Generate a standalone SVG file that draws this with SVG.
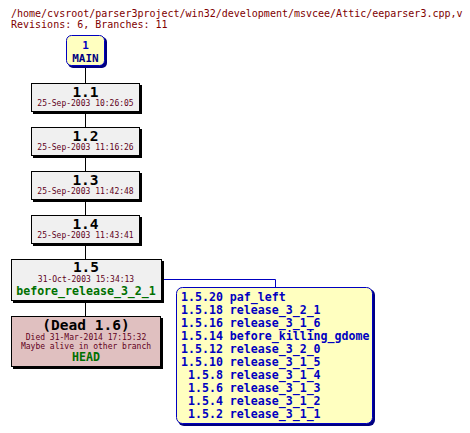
<svg xmlns="http://www.w3.org/2000/svg" width="470" height="433" viewBox="0 0 470 433">
<style>
text{font-family:"DejaVu Sans Mono","Liberation Mono",monospace;}
.hdr{font-size:10px;fill:#800000;}
.rev{fill:#f0f0f0;stroke:#000;stroke-width:1;}
.sh{fill:#000;}
.num{font-size:14.5px;font-weight:bold;fill:#000;text-anchor:middle;}
.date{font-size:8px;fill:#600020;text-anchor:middle;}
.tag{font-size:11.6px;font-weight:bold;fill:#007000;text-anchor:middle;}
.br{font-size:11.6px;font-weight:bold;fill:#0000c0;}
.ln{stroke:#000;stroke-width:1;fill:none;}
</style>
<rect width="470" height="433" fill="#fff"/>
<text class="hdr" x="11" y="17">/home/cvsroot/parser3project/win32/development/msvcee/Attic/eeparser3.cpp,v</text>
<text class="hdr" x="11" y="28">Revisions: 6, Branches: 11</text>
<g id="connectors">
<line class="ln" x1="85.5" y1="66" x2="85.5" y2="83"/>
<line class="ln" x1="85.5" y1="112" x2="85.5" y2="127"/>
<line class="ln" x1="85.5" y1="156" x2="85.5" y2="171"/>
<line class="ln" x1="85.5" y1="200" x2="85.5" y2="215"/>
<line class="ln" x1="85.5" y1="244" x2="85.5" y2="259"/>
<line class="ln" x1="85.5" y1="301" x2="85.5" y2="316"/>
<polyline points="162,279.5 275.5,279.5 275.5,287" fill="none" stroke="#0000c0" stroke-width="1"/>
</g>
<g id="main">
<rect x="68" y="37" width="39" height="31" rx="5" fill="#000080"/>
<rect x="66.5" y="35.5" width="38" height="30" rx="5" fill="#ffffc0" stroke="#0000c0"/>
<text x="85.5" y="48.5" font-size="11" font-weight="bold" fill="#0000c0" text-anchor="middle">1</text>
<text x="85.5" y="61.5" font-size="11" font-weight="bold" fill="#000080" text-anchor="middle">MAIN</text>
</g>
<g id="r1_1">
<rect class="sh" x="33" y="85" width="109" height="29"/>
<rect class="rev" x="31.5" y="83.5" width="108" height="28"/>
<text class="num" x="85.5" y="97">1.1</text>
<text class="date" x="85.5" y="106">25-Sep-2003 10:26:05</text>
</g>
<g id="r1_2">
<rect class="sh" x="33" y="129" width="109" height="29"/>
<rect class="rev" x="31.5" y="127.5" width="108" height="28"/>
<text class="num" x="85.5" y="141">1.2</text>
<text class="date" x="85.5" y="150">25-Sep-2003 11:16:26</text>
</g>
<g id="r1_3">
<rect class="sh" x="33" y="173" width="109" height="29"/>
<rect class="rev" x="31.5" y="171.5" width="108" height="28"/>
<text class="num" x="85.5" y="185">1.3</text>
<text class="date" x="85.5" y="194">25-Sep-2003 11:42:48</text>
</g>
<g id="r1_4">
<rect class="sh" x="33" y="217" width="109" height="29"/>
<rect class="rev" x="31.5" y="215.5" width="108" height="28"/>
<text class="num" x="85.5" y="229">1.4</text>
<text class="date" x="85.5" y="238">25-Sep-2003 11:43:41</text>
</g>
<g id="r1_5">
<rect class="sh" x="13" y="261" width="151" height="42"/>
<rect class="rev" x="11.5" y="259.5" width="150" height="41"/>
<text class="num" x="86" y="272">1.5</text>
<text class="date" x="86" y="282">31-Oct-2003 15:34:13</text>
<text class="tag" x="86" y="295">before_release_3_2_1</text>
</g>
<g id="dead">
<rect class="sh" x="13" y="318" width="150" height="51"/>
<rect x="11.5" y="316.5" width="149" height="50" fill="#e0c0c0" stroke="#000"/>
<text class="num" x="86" y="330">(Dead 1.6)</text>
<text class="date" x="86" y="340">Died 31-Mar-2014 17:15:32</text>
<text class="date" x="86" y="349">Maybe alive in other branch</text>
<text class="tag" x="86" y="361">HEAD</text>
</g>
<g id="branches">
<rect x="178" y="289" width="197" height="137" rx="6" fill="#000080"/>
<rect x="176.5" y="287.5" width="196" height="136" rx="6" fill="#ffffc0" stroke="#0000c0"/>
<text class="br" xml:space="preserve" x="181" y="301">1.5.20 paf_left</text>
<text class="br" xml:space="preserve" x="181" y="314">1.5.18 release_3_2_1</text>
<text class="br" xml:space="preserve" x="181" y="327">1.5.16 release_3_1_6</text>
<text class="br" xml:space="preserve" x="181" y="340">1.5.14 before_killing_gdome</text>
<text class="br" xml:space="preserve" x="181" y="353">1.5.12 release_3_2_0</text>
<text class="br" xml:space="preserve" x="181" y="366">1.5.10 release_3_1_5</text>
<text class="br" xml:space="preserve" x="181" y="379"> 1.5.8 release_3_1_4</text>
<text class="br" xml:space="preserve" x="181" y="392"> 1.5.6 release_3_1_3</text>
<text class="br" xml:space="preserve" x="181" y="405"> 1.5.4 release_3_1_2</text>
<text class="br" xml:space="preserve" x="181" y="418"> 1.5.2 release_3_1_1</text>
</g>
</svg>
